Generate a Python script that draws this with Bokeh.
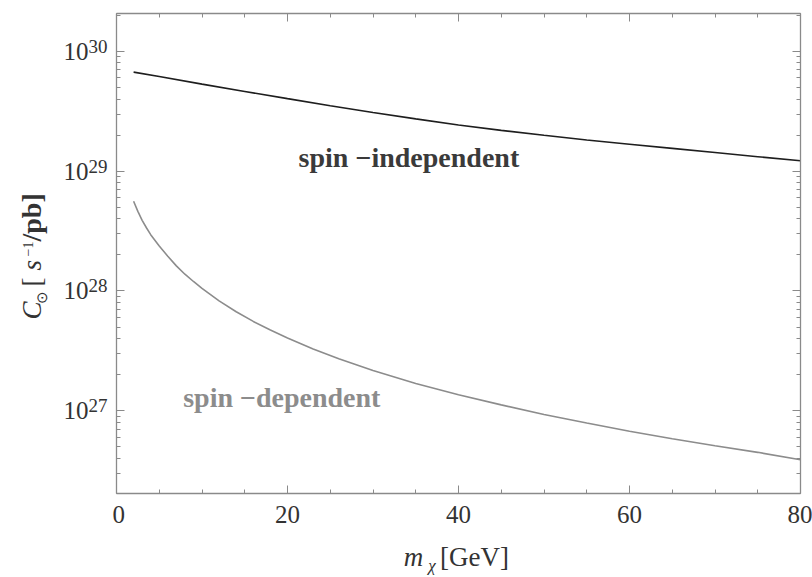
import math

from bokeh.embed import file_html
from bokeh.layouts import column, row
from bokeh.models import (CustomJSTickFormatter, FixedTicker, Label, LinearAxis,
                          LinearScale, LogAxis, LogTicker, Range1d)
from bokeh.plotting import figure
from bokeh.resources import INLINE

# Capture rate C_sun per unit cross section versus WIMP mass
mass_si = [2, 5, 10, 15, 20, 25, 30, 35, 40, 45, 50, 55, 60, 65, 70, 75, 80]
rate_si = [6.71e29, 6.17e29, 5.33e29, 4.63e29, 4.03e29, 3.52e29, 3.09e29,
           2.73e29, 2.43e29, 2.19e29, 1.995e29, 1.82e29, 1.68e29, 1.55e29,
           1.43e29, 1.32e29, 1.22e29]

mass_sd = [2, 2.5, 3, 3.5, 4, 5, 6, 7, 8, 9, 10, 12, 14, 16, 18, 20, 23, 26,
           30, 35, 40, 45, 50, 55, 60, 65, 70, 75, 80]
rate_sd = [5.61e28, 4.62e28, 3.89e28, 3.37e28, 2.95e28, 2.37e28, 1.95e28,
           1.62e28, 1.38e28, 1.20e28, 1.05e28, 8.26e27, 6.71e27, 5.57e27,
           4.72e27, 4.05e27, 3.28e27, 2.72e27, 2.17e27, 1.69e27, 1.36e27,
           1.12e27, 9.3e26, 7.9e26, 6.75e26, 5.85e26, 5.1e26, 4.5e26, 3.9e26]

x_major = [0, 20, 40, 60, 80]
x_minor = [5, 10, 15, 25, 30, 35, 45, 50, 55, 65, 70, 75]
y_decades = [1e27, 1e28, 1e29, 1e30]

label_si = "spin \u2212independent"
label_sd = "spin \u2212dependent"

W, H = 812, 577
LEFT_W = 112           # strip holding the y tick labels and the y title
BOTTOM_H = 40          # strip holding the x title
SERIF = "Liberation Serif"
AXIS_GREY = "#8a8a8a"
TEXT_DARK = "#333333"

y_range = Range1d(2.04e26, 2.07e30)
x_range = Range1d(0, 80)


def bare(fig):
    fig.axis.visible = False
    fig.grid.visible = False
    fig.outline_line_color = None
    fig.background_fill_color = "white"
    fig.border_fill_color = "white"


# ---------------------------------------------------------------- main panel
p = figure(width=W - LEFT_W, height=H - BOTTOM_H, y_axis_type="log",
           x_range=x_range, y_range=y_range,
           output_backend="svg", toolbar_location=None,
           min_border_left=4, min_border_right=12,
           min_border_top=13, min_border_bottom=44)
p.grid.visible = False
p.outline_line_color = AXIS_GREY
p.background_fill_color = "white"
p.border_fill_color = "white"

blank = CustomJSTickFormatter(code="return '';")


def style_axis(ax, labels=True):
    ax.axis_line_color = AXIS_GREY
    ax.axis_line_width = 1.3
    ax.major_tick_line_color = AXIS_GREY
    ax.minor_tick_line_color = AXIS_GREY
    ax.major_tick_in = 8
    ax.major_tick_out = 0
    ax.minor_tick_in = 4
    ax.minor_tick_out = 0
    ax.major_label_text_font = SERIF
    ax.major_label_text_font_size = "25px"
    ax.major_label_text_color = TEXT_DARK
    if not labels:
        ax.formatter = blank
        ax.major_label_standoff = 0


xt = FixedTicker(ticks=x_major, minor_ticks=x_minor)
yt = LogTicker(num_minor_ticks=10)

p.xaxis.ticker = xt
style_axis(p.xaxis[0])
p.xaxis.major_label_standoff = 12

p.yaxis.ticker = yt
style_axis(p.yaxis[0], labels=False)

top = LinearAxis(ticker=xt)
style_axis(top, labels=False)
p.add_layout(top, "above")
right = LogAxis(ticker=yt)
style_axis(right, labels=False)
p.add_layout(right, "right")

p.line(mass_si, rate_si, line_color="#1e1e1e", line_width=1.6)
p.line(mass_sd, rate_sd, line_color="#8c8c8c", line_width=1.6)

p.add_layout(Label(x=21.3, y=1.29e29, text=label_si, text_font=SERIF,
                   text_font_size="28px", text_font_style="bold",
                   text_color="#3a3a3a", text_baseline="middle"))
p.add_layout(Label(x=7.8, y=1.30e27, text=label_sd, text_font=SERIF,
                   text_font_size="28px", text_font_style="bold",
                   text_color="#8c8c8c", text_baseline="middle"))

# ------------------------------------------- left strip: decade labels, title
ly = figure(width=LEFT_W, height=H, y_axis_type="log",
            x_range=Range1d(0, LEFT_W), y_range=y_range,
            output_backend="svg", toolbar_location=None,
            min_border_left=0, min_border_right=0,
            min_border_top=13, min_border_bottom=84)
bare(ly)
# pixel rows of the same frame, for placing the rotated title
ly.extra_y_ranges = {"px": Range1d(493, 13)}
ly.extra_y_scales = {"px": LinearScale()}

exponents = [str(int(round(math.log10(d)))) for d in y_decades]
ly.text(x=[88] * len(y_decades), y=y_decades, text=["10"] * len(y_decades),
        text_font=SERIF, text_font_size="25px", text_color=TEXT_DARK,
        text_align="right", text_baseline="middle")
ly.text(x=[88] * len(y_decades), y=y_decades, text=exponents, y_offset=-5,
        text_font=SERIF, text_font_size="19px", text_color=TEXT_DARK,
        text_align="left", text_baseline="middle")

up = math.pi / 2
title_parts = [
    # text, centre column, start row, size, style
    ("C", 31, 319, 27, "italic"),
    ("\u2299", 41, 303, 15, "normal"),
    ("[", 31, 286, 27, "normal"),
    ("s", 31, 270, 27, "italic"),
    ("\u22121", 27, 256, 14, "normal"),
    ("/pb]", 31, 241, 28, "bold"),
]
for txt, bx, by, size, style in title_parts:
    ly.text(x=[bx], y=[by], text=[txt], y_range_name="px", angle=up,
            text_font=SERIF, text_font_size=f"{size}px",
            text_font_style=style, text_color=TEXT_DARK,
            text_align="left", text_baseline="middle")

# ------------------------------------------------- bottom strip: x title
bx_fig = figure(width=W - LEFT_W, height=BOTTOM_H,
                x_range=Range1d(LEFT_W, W), y_range=Range1d(H, H - BOTTOM_H),
                output_backend="svg", toolbar_location=None,
                min_border_left=0, min_border_right=0,
                min_border_top=0, min_border_bottom=0)
bare(bx_fig)
x_title = [
    # text, left edge, centre row, size, style
    ("m", 406, 556, 27, "italic"),
    ("\u03c7", 431, 565, 17, "italic"),
    ("[GeV]", 443, 556, 27, "normal"),
]
for txt, tx, ty, size, style in x_title:
    bx_fig.text(x=[tx], y=[ty], text=[txt], text_font=SERIF,
                text_font_size=f"{size}px", text_font_style=style,
                text_color=TEXT_DARK, text_align="left",
                text_baseline="middle")

page = row(ly, column(p, bx_fig, spacing=0), spacing=0)

open("out.html", "w", encoding="utf-8").write(file_html(page, INLINE))
